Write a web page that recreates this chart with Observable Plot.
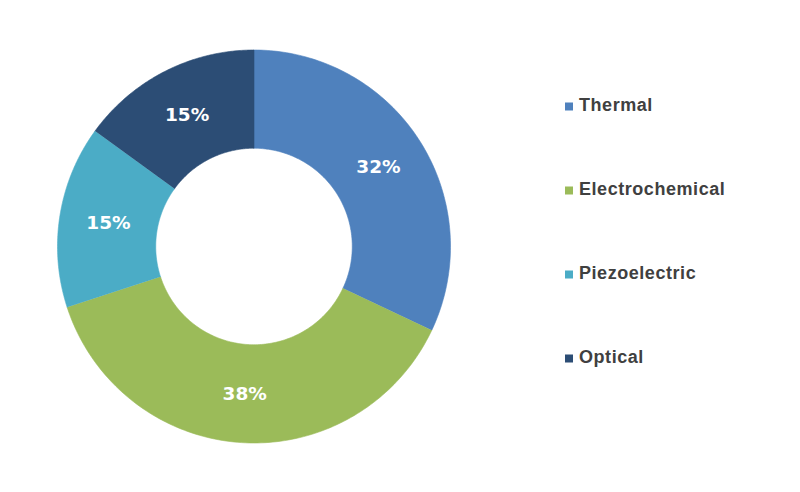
<!DOCTYPE html>
<html>
<head>
<meta charset="utf-8">
<script src="https://cdn.jsdelivr.net/npm/d3@7"></script>
<script src="https://cdn.jsdelivr.net/npm/@observablehq/plot@0.6"></script>
<style>
  html, body { margin: 0; padding: 0; background: #fff; }
  #wrap { position: relative; width: 800px; height: 492px; overflow: hidden; }
  #chart { position: absolute; left: 0; top: 0; }
  #legend { position: absolute; left: 565px; top: 0; font-family: "Liberation Sans", Arial, sans-serif; font-weight: bold; font-size: 18px; letter-spacing: 0.55px; color: #404040; }
  .item { position: absolute; left: 0; display: flex; align-items: center; white-space: nowrap; transform: translateY(-50%); }
  .sw { width: 8px; height: 8px; margin-right: 6px; margin-top: 2px; }
</style>
</head>
<body>
<div id="wrap">
  <div id="chart"></div>
  <div id="legend"></div>
</div>
<script>
const categories = ["Thermal", "Electrochemical", "Piezoelectric", "Optical"];
const values = [32, 38, 15, 15];
const colors = ["#4F81BD", "#9BBB59", "#4BACC6", "#2C4D75"];
const labels = ["32%", "38%", "15%", "15%"];

const innerR = 0.5;
const outerR = 1;
const total = d3.sum(values);

// Build slice polygons from the values (angles clockwise from top)
const polys = [];
const labelPts = [];
let acc = 0;
categories.forEach((name, i) => {
  const a0 = acc / total * 2 * Math.PI;
  acc += values[i];
  const a1 = acc / total * 2 * Math.PI;
  const n = 120;
  for (let k = 0; k <= n; k++) {
    const a = a0 + (a1 - a0) * k / n;
    polys.push({name, x: outerR * Math.sin(a), y: outerR * Math.cos(a)});
  }
  for (let k = n; k >= 0; k--) {
    const a = a0 + (a1 - a0) * k / n;
    polys.push({name, x: innerR * Math.sin(a), y: innerR * Math.cos(a)});
  }
  const am = (a0 + a1) / 2;
  const rm = (innerR + outerR) / 2;
  labelPts.push({name, label: labels[i], x: rm * Math.sin(am), y: rm * Math.cos(am)});
});

const plot = Plot.plot({
  width: 520,
  height: 492,
  marginLeft: 57,
  marginRight: 70,
  marginTop: 49.5,
  marginBottom: 49.5,
  x: {domain: [-1, 1], axis: null},
  y: {domain: [-1, 1], axis: null},
  color: {domain: categories, range: colors},
  style: {background: "transparent"},
  marks: [
    Plot.line(polys, {x: "x", y: "y", z: "name", fill: "name", stroke: "name", strokeWidth: 0.6, curve: "linear"}),
    Plot.text(labelPts, {x: "x", y: "y", text: "label", fill: "white", fontSize: 18.5, fontWeight: "bold", fontFamily: "DejaVu Sans"})
  ]
});
document.getElementById("chart").appendChild(plot);

const legendTops = [105, 189, 273, 357];
const legend = d3.select("#legend");
categories.forEach((name, i) => {
  const item = legend.append("div").attr("class", "item").style("top", legendTops[i] + "px");
  item.append("div").attr("class", "sw").style("background", colors[i]);
  item.append("span").text(name);
});
</script>
</body>
</html>
